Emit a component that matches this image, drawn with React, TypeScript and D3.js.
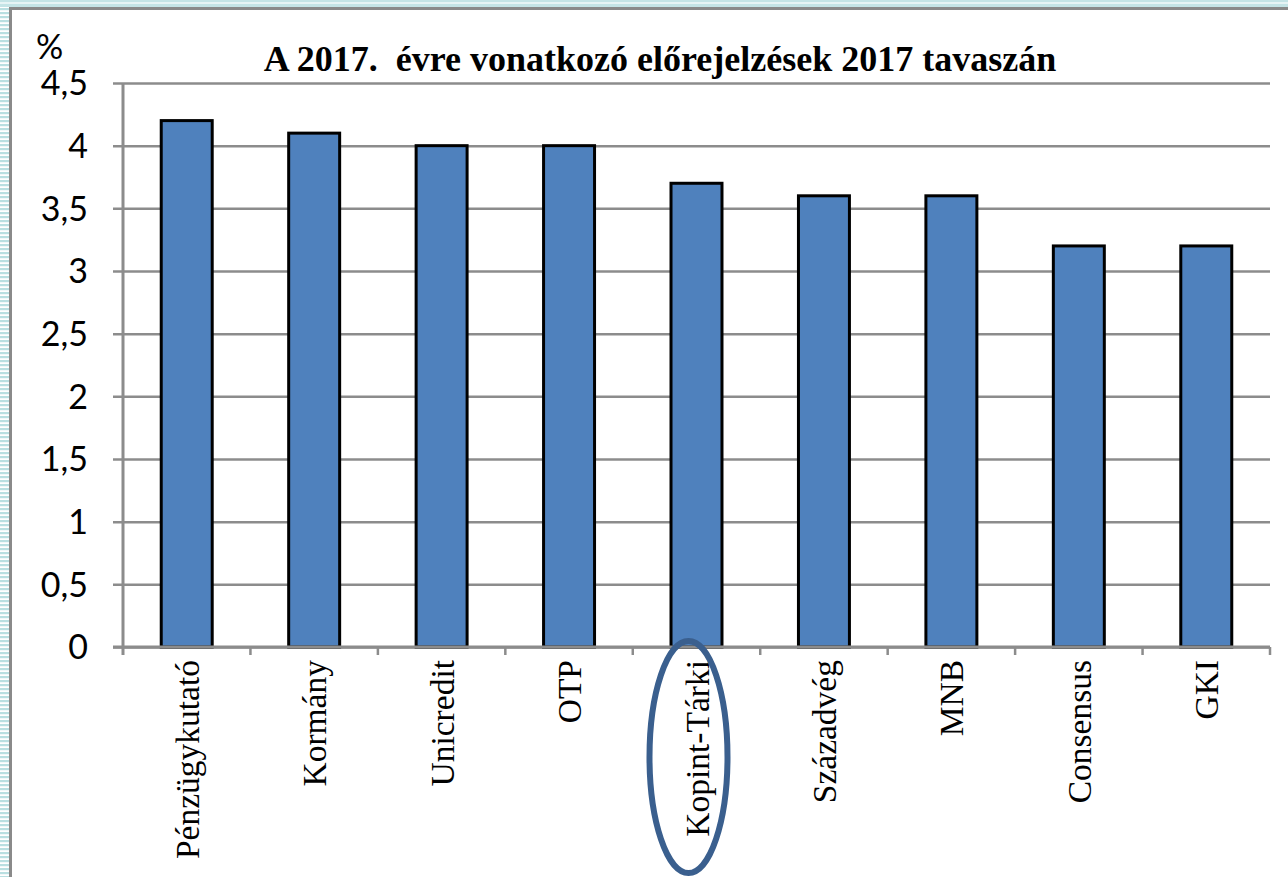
import { useEffect, useRef } from 'react'
import * as d3 from 'd3'

const W = 1288, H = 877
const M = { top: 83, right: 18, bottom: 230, left: 123 }

const categories = ['Pénzügykutató', 'Kormány', 'Unicredit', 'OTP', 'Kopint-Tárki', 'Századvég', 'MNB', 'Consensus', 'GKI']
const values = [4.2, 4.1, 4.0, 4.0, 3.7, 3.6, 3.6, 3.2, 3.2]
const yTicks = [0, 0.5, 1, 1.5, 2, 2.5, 3, 3.5, 4, 4.5]
const title = 'A 2017.  évre vonatkozó előrejelzések 2017 tavaszán'
const highlighted = 'Kopint-Tárki'

export default function App() {
  const svgRef = useRef<SVGSVGElement>(null)

  useEffect(() => {
    const svg = d3.select(svgRef.current!)
    svg.selectAll('*').remove()

    const iw = W - M.left - M.right
    const ih = H - M.top - M.bottom

    // slide background stripes
    const defs = svg.append('defs')
    const pat = defs.append('pattern').attr('id', 'stripes')
      .attr('width', 8).attr('height', 4).attr('patternUnits', 'userSpaceOnUse')
    pat.append('rect').attr('width', 8).attr('height', 4).attr('fill', '#ffffff')
    pat.append('rect').attr('width', 8).attr('height', 2.2).attr('fill', '#b9dfe1')
    svg.append('rect').attr('x', 0).attr('y', 0).attr('width', W).attr('height', H).attr('fill', '#fff')
    svg.append('rect').attr('x', 0).attr('y', 0).attr('width', 9).attr('height', H).attr('fill', 'url(#stripes)')
    svg.append('rect').attr('x', 0).attr('y', 0).attr('width', W).attr('height', 7).attr('fill', '#c4e4e6')
    svg.append('rect').attr('x', 0).attr('y', 2).attr('width', W).attr('height', 2).attr('fill', '#e6f4f5')

    // chart frame
    svg.append('line').attr('x1', 10.5).attr('x2', 10.5).attr('y1', 8).attr('y2', H)
      .attr('stroke', '#8a8a8a').attr('stroke-width', 3)
    svg.append('line').attr('x1', 9).attr('x2', W).attr('y1', 8.5).attr('y2', 8.5)
      .attr('stroke', '#8a8a8a').attr('stroke-width', 3)

    const x = d3.scaleBand<string>().domain(categories).range([0, iw]).paddingInner(0.6).paddingOuter(0.3)
    const xb = d3.scaleBand<string>().domain(categories).range([0, iw])
    const y = d3.scaleLinear().domain([0, 4.5]).range([ih, 0])

    const g = svg.append('g').attr('transform', `translate(${M.left},${M.top})`)

    // grid + y axis
    g.append('g').call(
      d3.axisLeft(y).tickValues(yTicks).tickSize(-iw).tickPadding(35)
        .tickFormat(d => String(d).replace('.', ','))
    )
      .call(s => s.select('.domain').remove())
      .call(s => s.selectAll('.tick line').attr('stroke', '#8c8c8c').attr('stroke-width', 2.5).attr('x1', -10))
      .call(s => s.selectAll('.tick text').attr('font-size', 34).attr('font-family', 'Lato, "Open Sans", sans-serif')
        .attr('fill', '#000').attr('dy', '0.35em'))

    g.append('line').attr('x1', 0).attr('x2', 0).attr('y1', 0).attr('y2', ih + 8)
      .attr('stroke', '#8c8c8c').attr('stroke-width', 3)

    // x tick marks at band boundaries
    g.append('g').selectAll('line').data(categories)
      .join('line')
      .attr('x1', d => xb(d)! + xb.step()).attr('x2', d => xb(d)! + xb.step())
      .attr('y1', ih).attr('y2', ih + 8)
      .attr('stroke', '#8c8c8c').attr('stroke-width', 2.5)

    // bars
    g.append('g').selectAll('rect').data(categories).join('rect')
      .attr('x', d => xb(d)! + (xb.bandwidth() - x.bandwidth()) / 2)
      .attr('y', (d, i) => y(values[i]))
      .attr('width', x.bandwidth())
      .attr('height', (d, i) => ih - y(values[i]))
      .attr('fill', '#4f81bd').attr('stroke', '#000').attr('stroke-width', 3)

    // x axis baseline
    g.append('line').attr('x1', -10).attr('x2', iw).attr('y1', ih).attr('y2', ih)
      .attr('stroke', '#8c8c8c').attr('stroke-width', 3)

    // category labels
    g.append('g').selectAll('text').data(categories).join('text')
      .attr('transform', d => `translate(${xb(d)! + xb.bandwidth() / 2 + 12},${ih + 13}) rotate(-90)`)
      .attr('text-anchor', 'end')
      .attr('font-size', 33.5).attr('font-family', '"Liberation Serif", "Times New Roman", serif')
      .attr('fill', '#000').text(d => d)

    // highlight ellipse
    const hx = xb(highlighted)! + xb.bandwidth() / 2 - 8
    g.append('ellipse').attr('cx', hx).attr('cy', ih + 110).attr('rx', 39).attr('ry', 116)
      .attr('fill', 'none').attr('stroke', '#3a5f8e').attr('stroke-width', 6)

    // title + unit
    svg.append('text').attr('x', 660).attr('y', 71).attr('text-anchor', 'middle')
      .attr('font-size', 36).attr('font-weight', 'bold')
      .attr('font-family', '"Liberation Serif", "Times New Roman", serif')
      .attr('fill', '#000').style('white-space', 'pre').text(title)
    svg.append('text').attr('x', 36).attr('y', 59)
      .attr('font-size', 34).attr('font-family', 'Lato, "Open Sans", sans-serif')
      .attr('fill', '#000').text('%')
  }, [])

  return (
    <div style={{ position: 'absolute', left: 0, top: 0 }}>
      <svg ref={svgRef} width={W} height={H} viewBox={`0 0 ${W} ${H}`} style={{ display: 'block' }} />
    </div>
  )
}
